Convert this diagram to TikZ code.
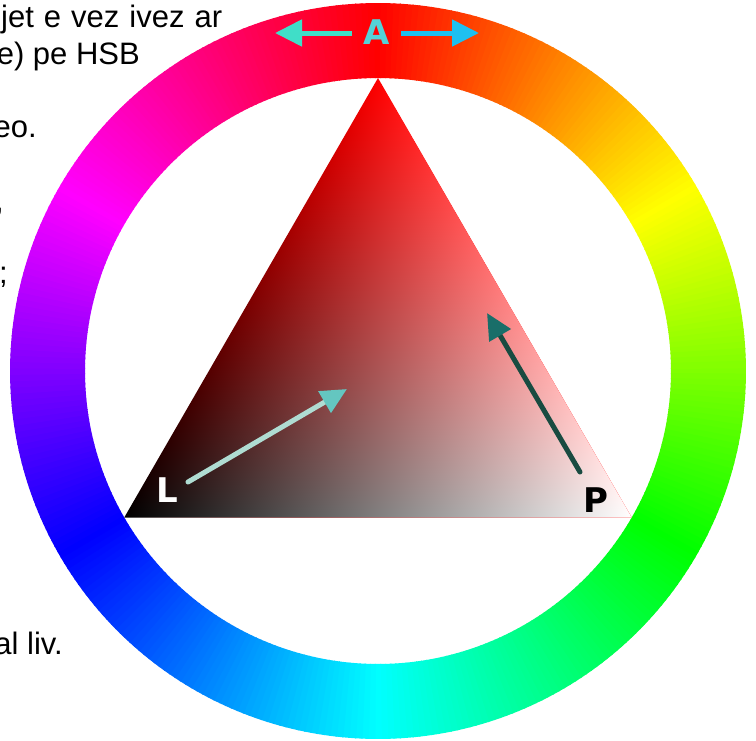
\documentclass[tikz,border=0pt]{standalone}
\usepackage{fontspec}
\setmainfont{Liberation Sans}
\newfontfamily\lblfont{DejaVu Sans}
\usetikzlibrary{arrows.meta}
\definecolor{aleft}{RGB}{64,222,200}
\definecolor{aright}{RGB}{30,192,240}
\definecolor{alabel}{RGB}{85,210,215}
\definecolor{lshaft}{RGB}{175,220,210}
\definecolor{lhead}{RGB}{100,198,192}
\definecolor{pshaft}{RGB}{25,75,65}
\definecolor{phead}{RGB}{25,110,105}
\begin{document}
\begin{tikzpicture}[x=1pt,y=-1pt,
  para/.style={inner sep=0pt, font=\fontsize{31}{37}\selectfont, text=black},
  lbl/.style={inner sep=0pt, font=\lblfont\bfseries\fontsize{34}{40}\selectfont},
  arr/.style={line width=5pt, line cap=round},
]
\useasboundingbox (0,0) rectangle (756,740);
\fill[white] (0,0) rectangle (756,740);
\clip (0,0) rectangle (756,740);

% paragraph fragments
\node[para, anchor=base west] (t1) at (1,27) {\makebox[221pt][s]{jet e vez ivez ar}};
\node[para, anchor=base east] (t2) at (140,64) {e) pe HSB};
\node[para, anchor=base east] (t3) at (37,137) {eo.};
\node[para, anchor=base east] (t4) at (4,211) {,};
\node[para, anchor=base east] (t5) at (8,283) {;};
\node[para, anchor=base east] (t6) at (63,654) {al liv.};

% hue ring
\begin{scope}[shift={(378,371)}]
\foreach \a in {0,...,359}{
  \pgfmathsetmacro\h{mod(\a+90,360)}
  \definecolor{hc}{Hsb}{\h,1,1}
  \fill[hc] (\a-0.6:293) -- (\a-0.6:368) -- (\a+0.6:368) -- (\a+0.6:293) -- cycle;
}
\end{scope}

% triangle: red component layer
\begin{scope}[transform canvas={shift={(378pt,-371pt)},rotate=30}]
  \shade[left color=black,right color=red] (-293pt,0pt) -- (146.5pt,253.75pt) -- (146.5pt,-253.75pt) -- cycle;
\end{scope}
% triangle: white component layer
\begin{scope}[blend mode=lighten, transform canvas={shift={(378pt,-371pt)},rotate=-30}]
  \shade[left color=black,right color=cyan] (293pt,0pt) -- (-146.5pt,253.75pt) -- (-146.5pt,-253.75pt) -- cycle;
\end{scope}

% A label and arrows
\node[lbl, text=alabel] (A) at (377,32) {A};
\coordinate (Al) at (275,33);
\coordinate (Ar) at (479,33);
\draw[line width=5pt, aleft, -{Triangle[length=27pt,width=26pt]}] (352,33) -- (Al);
\draw[line width=5pt, aright, -{Triangle[length=27pt,width=26pt]}] (401,33) -- (Ar);

% L label and arrow
\node[lbl, text=white] (L) at (167,490) {L};
\coordinate (Ls) at (188,482);
\coordinate (Lt) at (347,389);
\draw[arr, lshaft, -{Triangle[length=26pt,width=24pt,color=lhead]}] (Ls) -- (Lt);

% P label and arrow
\node[lbl, text=black] (P) at (596,500) {P};
\coordinate (Ps) at (580,472);
\coordinate (Pt) at (487,313);
\draw[arr, pshaft, -{Triangle[length=26pt,width=24pt,color=phead]}] (Ps) -- (Pt);
\end{tikzpicture}
\end{document}
